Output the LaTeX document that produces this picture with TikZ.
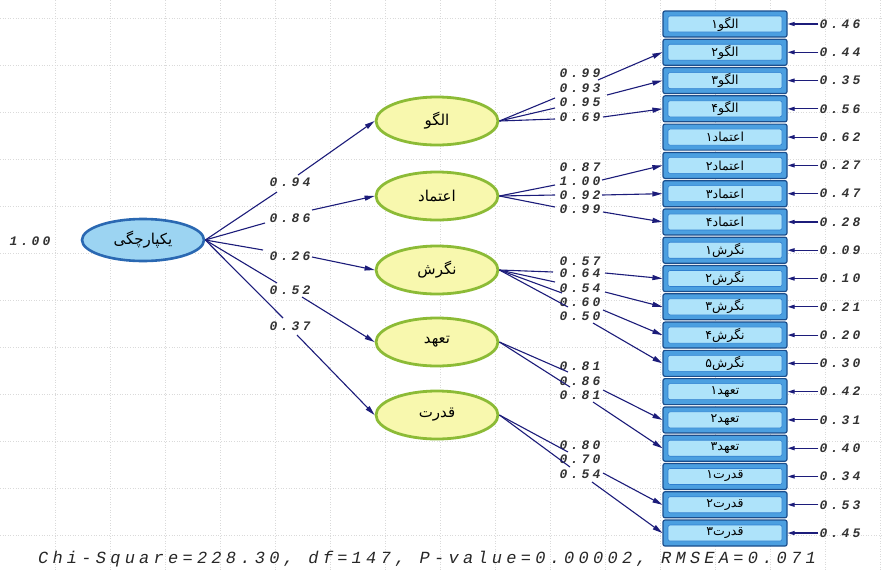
\documentclass[tikz,border=0pt]{standalone}
\usepackage{fontspec}
\usetikzlibrary{arrows.meta,shapes.geometric}
\TeXXeTstate=1
\newfontfamily\fa[Script=Arabic]{DejaVu Sans}
\newfontfamily\nm[LetterSpace=25]{Liberation Mono}
\newcommand\fat[1]{{\fa\beginR #1\endR}}
\definecolor{navy}{HTML}{1C1C7A}
\definecolor{boxout}{HTML}{1B4E8C}
\definecolor{boxmid}{HTML}{4B9FE0}
\definecolor{boxin}{HTML}{AEE3FA}
\definecolor{boxinln}{HTML}{2F7FCF}
\definecolor{mainfill}{HTML}{9CD4F2}
\definecolor{mainline}{HTML}{2A68B2}
\definecolor{latfill}{HTML}{F8F8AE}
\definecolor{latline}{HTML}{8CBB36}
\definecolor{gridc}{HTML}{DADADA}
\tikzset{
  gridline/.style={gridc, dotted, line width=0.6pt},
  ln/.style={navy, line width=1.1pt},
  arr/.style={navy, line width=1.1pt, -{Triangle[length=10pt,width=5pt]}},
  earr/.style={navy, line width=1.1pt, -{Triangle[length=7pt,width=4pt]}},
  mainell/.style={ellipse, draw=mainline, fill=mainfill, line width=2.6pt,
    minimum width=122pt, minimum height=42pt, inner sep=0pt, font=\fontsize{15}{17}\selectfont},
  latell/.style={ellipse, draw=latline, fill=latfill, line width=2.8pt,
    minimum width=122pt, minimum height=48pt, inner sep=0pt, font=\fontsize{15}{17}\selectfont},
  obsbox/.style={rectangle, rounded corners=2pt, draw=boxout, fill=boxmid, line width=1.2pt,
    minimum width=124pt, minimum height=26pt, inner sep=0pt, font=\fontsize{12.5}{14}\selectfont,
    path picture={\draw[fill=boxin, draw=boxinln, line width=0.6pt]
      ([shift={(5pt,-5pt)}]path picture bounding box.north west) rectangle
      ([shift={(-5pt,5pt)}]path picture bounding box.south east);}},
  num/.style={inner sep=1pt, text=black!80, font=\nm\bfseries\itshape\fontsize{13}{15}\selectfont},
}
\begin{document}
\begin{tikzpicture}[x=1pt,y=-1pt]
\useasboundingbox (0,0) rectangle (884,571);
\fill[white] (0,0) rectangle (884,571);
% background grid
\foreach \gx in {55,110,...,880} \draw[gridline] (\gx,0) -- (\gx,571);
\foreach \gy in {18,65,...,571} \draw[gridline] (0,\gy) -- (884,\gy);

% observed boxes and error terms
\foreach \t [count=\i] in {الگو۱,الگو۲,الگو۳,الگو۴,اعتماد۱,اعتماد۲,اعتماد۳,اعتماد۴,نگرش۱,نگرش۲,نگرش۳,نگرش۴,نگرش۵,تعهد۱,تعهد۲,تعهد۳,قدرت۱,قدرت۲,قدرت۳}
  \node[obsbox] (b\i) at (725,{24+28.28*(\i-1)}) {\fat{\t}};
\foreach \v [count=\i] in {0.46,0.44,0.35,0.56,0.62,0.27,0.47,0.28,0.09,0.10,0.21,0.20,0.30,0.42,0.31,0.40,0.34,0.53,0.45}{
  \node[num] (r\i) at (840,{24+28.28*(\i-1)}) {\v};
  \draw[earr] (r\i) -- (b\i);
}

% latent variables
\node[mainell] (main) at (143,240) {\fat{یکپارچگی}};
\node[num] (var) at (30,241) {1.00};
\node[latell] (e1) at (437,121) {\fat{الگو}};
\node[latell] (e2) at (437,196) {\fat{اعتماد}};
\node[latell] (e3) at (437,270) {\fat{نگرش}};
\node[latell] (e4) at (437,342) {\fat{تعهد}};
\node[latell] (e5) at (437,415) {\fat{قدرت}};

% second-order paths
\node[num] (m1) at (290,182) {0.94};
\node[num] (m2) at (290,218) {0.86};
\node[num] (m3) at (290,256) {0.26};
\node[num] (m4) at (290,290) {0.52};
\node[num] (m5) at (290,326) {0.37};
\coordinate (m1a) at (277,192); \coordinate (m1b) at (298,175);
\coordinate (m2a) at (265,223); \coordinate (m2b) at (312,210);
\coordinate (m3a) at (263,250); \coordinate (m3b) at (312,257);
\coordinate (m4a) at (277,283); \coordinate (m4b) at (302,297);
\coordinate (m5a) at (283,318); \coordinate (m5b) at (297,335);
\foreach \k in {1,...,5}{
  \draw[ln] (main.east) -- (m\k a);
  \draw[arr] (m\k b) -- (e\k.west);
}

% group 1 : الگو
\node[num] (l11) at (580,73) {0.99};
\node[num] (l12) at (580,88) {0.93};
\node[num] (l13) at (580,102) {0.95};
\node[num] (l14) at (580,117) {0.69};
\coordinate (g1a) at (555,98); \coordinate (g1b) at (555,108); \coordinate (g1c) at (555,119);
\draw[ln] (e1.east) -- (g1a); \draw[ln] (e1.east) -- (g1b); \draw[ln] (e1.east) -- (g1c);
\coordinate (h11) at (598,80); \coordinate (h12) at (607,95); \coordinate (h14) at (603,117);
\draw[arr] (h11) -- (b2.west); \draw[arr] (h12) -- (b3.west); \draw[arr] (h14) -- (b4.west);

% group 2 : اعتماد
\node[num] (l21) at (580,167) {0.87};
\node[num] (l22) at (580,181) {1.00};
\node[num] (l23) at (580,195) {0.92};
\node[num] (l24) at (580,209) {0.99};
\coordinate (g2a) at (555,185); \coordinate (g2b) at (555,195); \coordinate (g2c) at (555,207);
\draw[ln] (e2.east) -- (g2a); \draw[ln] (e2.east) -- (g2b); \draw[ln] (e2.east) -- (g2c);
\coordinate (h22) at (602,180); \coordinate (h23) at (602,195); \coordinate (h24) at (603,212);
\draw[arr] (h22) -- (b6.west); \draw[arr] (h23) -- (b7.west); \draw[arr] (h24) -- (b8.west);

% group 3 : نگرش
\node[num] (l31) at (580,261) {0.57};
\node[num] (l32) at (580,273) {0.64};
\node[num] (l33) at (580,288) {0.54};
\node[num] (l34) at (580,302) {0.60};
\node[num] (l35) at (580,316) {0.50};
\coordinate (g3a) at (553,272); \coordinate (g3b) at (555,282);
\coordinate (g3c) at (562,293); \coordinate (g3d) at (568,307);
\draw[ln] (e3.east) -- (g3a); \draw[ln] (e3.east) -- (g3b);
\draw[ln] (e3.east) -- (g3c); \draw[ln] (e3.east) -- (g3d);
\coordinate (h32) at (605,273); \coordinate (h33) at (605,292);
\coordinate (h34) at (603,310); \coordinate (h35) at (593,323);
\draw[arr] (h32) -- (b10.west); \draw[arr] (h33) -- (b11.west);
\draw[arr] (h34) -- (b12.west); \draw[arr] (h35) -- (b13.west);

% group 4 : تعهد
\node[num] (l41) at (580,366) {0.81};
\node[num] (l42) at (580,381) {0.86};
\node[num] (l43) at (580,395) {0.81};
\coordinate (g4a) at (568,372); \coordinate (g4b) at (570,387);
\draw[ln] (e4.east) -- (g4a); \draw[ln] (e4.east) -- (g4b);
\coordinate (h42) at (603,390); \coordinate (h43) at (593,402);
\draw[arr] (h42) -- (b15.west); \draw[arr] (h43) -- (b16.west);

% group 5 : قدرت
\node[num] (l51) at (580,445) {0.80};
\node[num] (l52) at (580,459) {0.70};
\node[num] (l53) at (580,474) {0.54};
\coordinate (g5a) at (568,452); \coordinate (g5b) at (570,467);
\draw[ln] (e5.east) -- (g5a); \draw[ln] (e5.east) -- (g5b);
\coordinate (h52) at (603,473); \coordinate (h53) at (592,482);
\draw[arr] (h52) -- (b18.west); \draw[arr] (h53) -- (b19.west);

% fit statistics
\node[inner sep=0pt, text=black!85, font=\nm\itshape\fontsize{17}{19}\selectfont] (fit) at (427,559)
  {Chi-Square=228.30, df=147, P-value=0.00002, RMSEA=0.071};
\end{tikzpicture}
\end{document}
